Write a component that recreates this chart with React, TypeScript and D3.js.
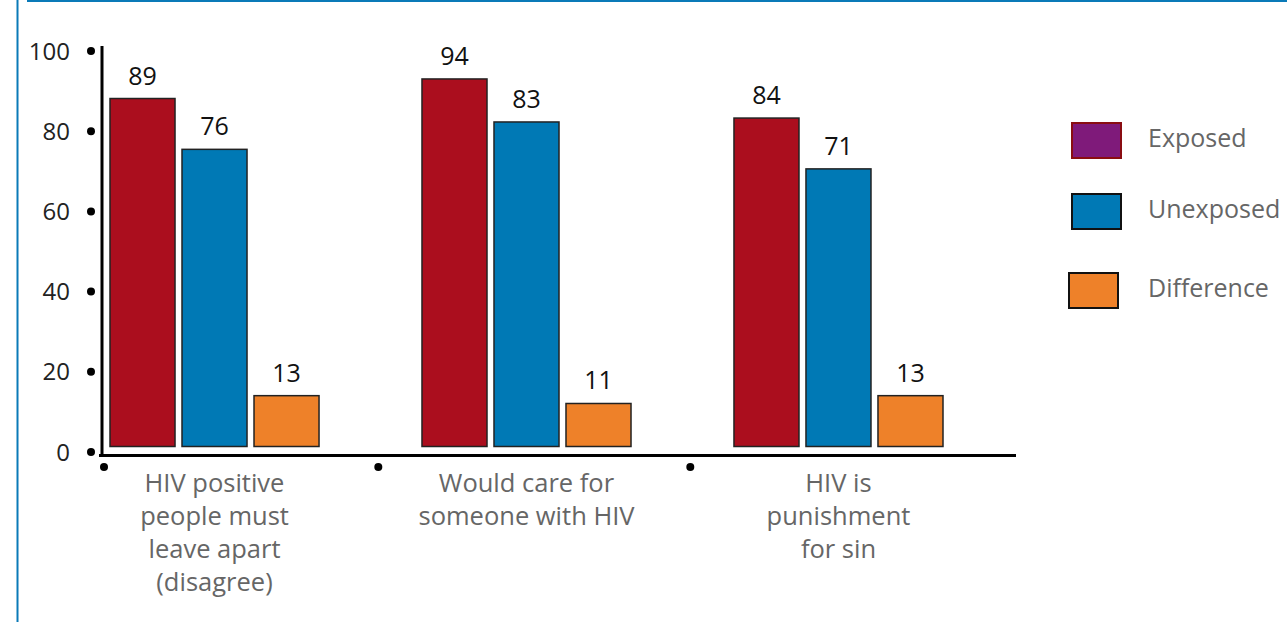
import React from "react";
import * as d3 from "d3";

// Survey items (x categories), one label line per array entry
const categories: string[][] = [
  ["HIV positive", "people must", "leave apart", "(disagree)"],
  ["Would care for", "someone with HIV"],
  ["HIV is", "punishment", "for sin"],
];

const seriesNames = ["Exposed", "Unexposed", "Difference"];
const exposed = [89, 94, 84];
const unexposed = [76, 83, 71];
const difference = [13, 11, 13];

const yTicks = [0, 20, 40, 60, 80, 100];

const barFill = ["#ab0e1e", "#0079b5", "#ee8129"];
const legendFill = ["#7f1a7a", "#0079b5", "#ee8129"];
const legendStroke = ["#8a0d12", "#111", "#111"];

const W = 1287;
const H = 622;
const FONT = "'Open Sans', Roboto, sans-serif";

export default function App() {
  const series = [exposed, unexposed, difference];

  // Outer band positions for the three item groups
  const x0 = d3
    .scaleBand<number>()
    .domain(d3.range(categories.length))
    .range([110, 943])
    .paddingInner(0.33)
    .paddingOuter(0);
  const x1 = d3
    .scaleBand<number>()
    .domain(d3.range(series.length))
    .range([0, x0.bandwidth()])
    .paddingInner(0.097);

  // Axis dots and bar heights
  const yAxis = d3.scaleLinear().domain([0, 100]).range([452, 51]);
  const yBar = d3.scaleLinear().domain([0, 100]).range([446.5, 55.5]);

  // separator dots under the x axis, one before each group
  const dotX = (i: number) =>
    i === 0 ? x0(0)! - 6 : x0(i)! - 0.14 * x0.step();

  return (
    <svg
      width={W}
      height={H}
      style={{ position: "absolute", left: 0, top: 0, background: "#fff" }}
      fontFamily={FONT}
    >
      {/* frame */}
      <line x1={17.5} y1={0} x2={17.5} y2={H} stroke="#0a7ab8" strokeWidth={2} />
      <line x1={27} y1={1} x2={W} y2={1} stroke="#0a7ab8" strokeWidth={2} />

      {/* y axis */}
      <line x1={102} y1={46} x2={102} y2={457} stroke="#000" strokeWidth={3} />
      {yTicks.map((t) => (
        <g key={t}>
          <circle cx={91} cy={yAxis(t)} r={4} fill="#000" />
          <text
            x={70}
            y={yAxis(t) + 8.5}
            textAnchor="end"
            fontSize={24}
            fill="#222"
          >
            {t}
          </text>
        </g>
      ))}

      {/* x axis */}
      <line x1={99} y1={455.5} x2={1016} y2={455.5} stroke="#000" strokeWidth={3} />
      {categories.map((_, i) => (
        <circle key={i} cx={dotX(i)} cy={467} r={4} fill="#000" />
      ))}

      {/* bars */}
      {categories.map((lines, i) => (
        <g key={i} transform={`translate(${x0(i)},0)`}>
          {series.map((vals, s) => {
            const v = vals[i];
            const bx = x1(s)!;
            const bw = x1.bandwidth();
            return (
              <g key={s}>
                <rect
                  x={bx}
                  y={yBar(v)}
                  width={bw}
                  height={yBar(0) - yBar(v)}
                  fill={barFill[s]}
                  stroke="#222"
                  strokeWidth={1.5}
                />
                <text
                  x={bx + bw / 2}
                  y={yBar(v) - 14}
                  textAnchor="middle"
                  fontSize={25}
                  fill="#111"
                >
                  {v}
                </text>
              </g>
            );
          })}
          <text
            x={x0.bandwidth() / 2}
            y={492}
            textAnchor="middle"
            fontSize={25.5}
            fill="#666"
          >
            {lines.map((l, k) => (
              <tspan key={k} x={x0.bandwidth() / 2} dy={k === 0 ? 0 : 33}>
                {l}
              </tspan>
            ))}
          </text>
        </g>
      ))}

      {/* legend */}
      {seriesNames.map((name, s) => {
        const ly = [123, 194, 273][s];
        const lx = [1072, 1072, 1069][s];
        return (
          <g key={name}>
            <rect
              x={lx}
              y={ly}
              width={49}
              height={35}
              fill={legendFill[s]}
              stroke={legendStroke[s]}
              strokeWidth={2}
            />
            <text x={1148} y={ly + 24} fontSize={25} fill="#666">
              {name}
            </text>
          </g>
        );
      })}
    </svg>
  );
}
